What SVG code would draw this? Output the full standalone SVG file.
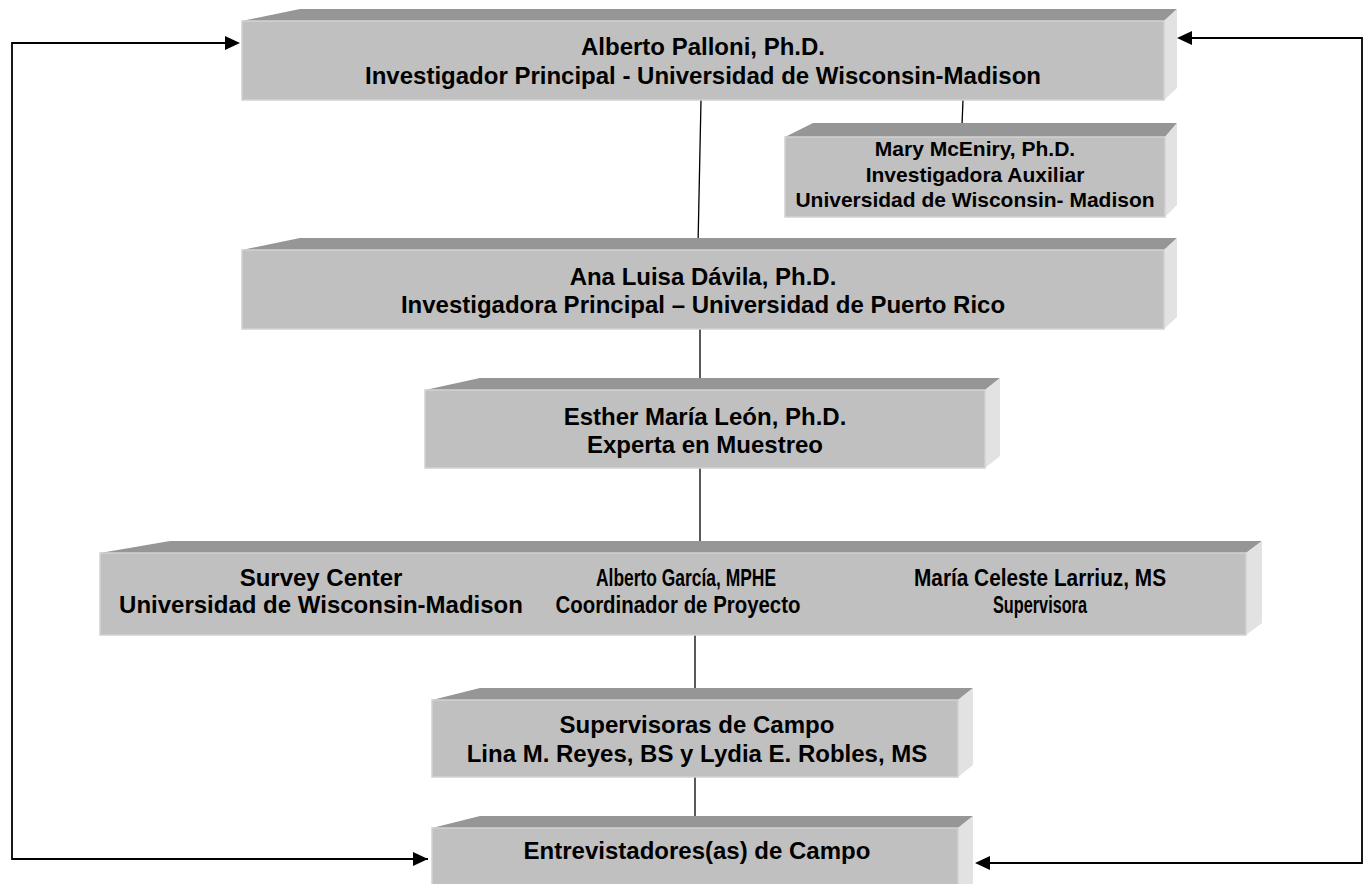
<svg xmlns="http://www.w3.org/2000/svg" width="1366" height="884" viewBox="0 0 1366 884">
<style>
.front{fill:#c0c0c0;stroke:#d2d2d2;stroke-width:1.5}
.top{fill:#969696}
.side{fill:#e2e2e2}
text{font-family:"Liberation Sans",Arial,sans-serif;font-weight:bold;font-size:24px;fill:#000;text-anchor:middle}
.sm{font-size:21px}
.conn{stroke:#000;stroke-width:1.3;fill:none}
.loop{stroke:#000;stroke-width:1.8;fill:none}
</style>
<defs>
<marker id="ah" viewBox="0 0 10 10" refX="10" refY="5" markerWidth="9" markerHeight="9" markerUnits="userSpaceOnUse" orient="auto">
<path d="M0,0 L10,5 L0,10 z" fill="#000"/>
</marker>
</defs>
<rect width="1366" height="884" fill="#fff"/>

<g id="connectors">
<line class="conn" x1="701" y1="100" x2="698" y2="245"/>
<line class="conn" x1="963" y1="100" x2="962" y2="125"/>
<line class="conn" x1="700" y1="329" x2="700" y2="380"/>
<line class="conn" x1="700" y1="468" x2="700" y2="545"/>
<line class="conn" x1="695" y1="635" x2="695" y2="692"/>
<line class="conn" x1="695" y1="777" x2="695" y2="820"/>
<path class="loop" d="M428,859 H12 V43 H225"/>
<path d="M225,36 L240,43 L225,50 z" fill="#000"/>
<path d="M428,859 H428" class="loop"/>
<path d="M413,852 L428,859 L413,866 z" fill="#000"/>
<path class="loop" d="M1192,38 H1362 V863 H990"/>
<path d="M1192,31 L1177,38 L1192,45 z" fill="#000"/>
<path d="M990,856 L975,863 L990,870 z" fill="#000"/>
</g>

<g id="node-palloni">
<polygon class="top" points="242,21 300,9 1177,9 1164,21"/>
<polygon class="side" points="1164,21 1177,9 1177,88 1164,100"/>
<rect class="front" x="242" y="21" width="922" height="79"/>
<text x="703" y="55">Alberto Palloni, Ph.D.</text>
<text x="703" y="84">Investigador Principal - Universidad de Wisconsin-Madison</text>
</g>

<g id="node-mceniry">
<polygon class="top" points="785,137 813,123 1177,123 1165,137"/>
<polygon class="side" points="1165,137 1177,123 1177,205 1165,217"/>
<rect class="front" x="785" y="137" width="380" height="80"/>
<text class="sm" x="975" y="156">Mary McEniry, Ph.D.</text>
<text class="sm" x="975" y="182">Investigadora Auxiliar</text>
<text class="sm" x="975" y="207">Universidad de Wisconsin- Madison</text>
</g>

<g id="node-davila">
<polygon class="top" points="242,250 300,238 1177,238 1164,250"/>
<polygon class="side" points="1164,250 1177,238 1177,317 1164,329"/>
<rect class="front" x="242" y="250" width="922" height="79"/>
<text x="703" y="285">Ana Luisa Dávila, Ph.D.</text>
<text x="703" y="313">Investigadora Principal – Universidad de Puerto Rico</text>
</g>

<g id="node-leon">
<polygon class="top" points="425,390 480,378 1000,378 985,390"/>
<polygon class="side" points="985,390 1000,378 1000,456 985,468"/>
<rect class="front" x="425" y="390" width="560" height="78"/>
<text x="705" y="425">Esther María León, Ph.D.</text>
<text x="705" y="453">Experta en Muestreo</text>
</g>

<g id="node-survey">
<polygon class="top" points="100,553 170,541 1262,541 1246,553"/>
<polygon class="side" points="1246,553 1262,541 1262,623 1246,635"/>
<rect class="front" x="100" y="553" width="1146" height="82"/>
<text x="321" y="586">Survey Center</text>
<text x="321" y="613">Universidad de Wisconsin-Madison</text>
<text x="686" y="586" textLength="180" lengthAdjust="spacingAndGlyphs">Alberto García, MPHE</text>
<text x="678" y="613" textLength="245" lengthAdjust="spacingAndGlyphs">Coordinador de Proyecto</text>
<text x="1040" y="586" textLength="252" lengthAdjust="spacingAndGlyphs">María Celeste Larriuz, MS</text>
<text x="1040" y="613" textLength="94" lengthAdjust="spacingAndGlyphs">Supervisora</text>
</g>

<g id="node-supervisoras">
<polygon class="top" points="432,700 480,688 973,688 958,700"/>
<polygon class="side" points="958,700 973,688 973,765 958,777"/>
<rect class="front" x="432" y="700" width="526" height="77"/>
<text x="697" y="733">Supervisoras de Campo</text>
<text x="697" y="762">Lina M. Reyes, BS y Lydia E. Robles, MS</text>
</g>

<g id="node-entrevistadores">
<polygon class="top" points="432,828 480,816 973,816 958,828"/>
<polygon class="side" points="958,828 973,816 973,884 958,896"/>
<rect class="front" x="432" y="828" width="526" height="70"/>
<text x="697" y="859">Entrevistadores(as) de Campo</text>
</g>
</svg>
